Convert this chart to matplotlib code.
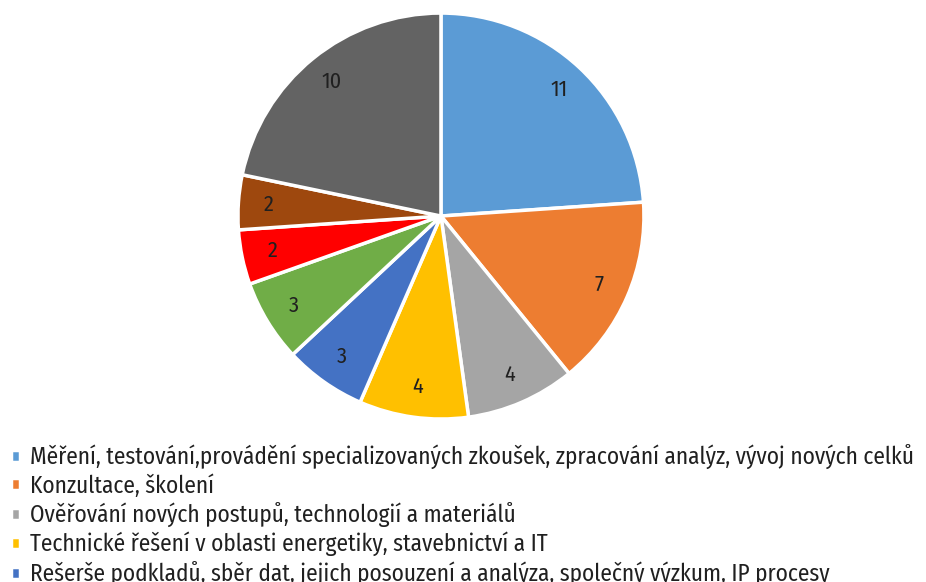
import matplotlib.pyplot as plt

# data
values = [11, 7, 4, 4, 3, 3, 2, 2, 10]
colors = ['#5B9BD5', '#ED7D31', '#A5A5A5', '#FFC000', '#4472C4',
          '#70AD47', '#FF0000', '#9E480E', '#636363']
legend_labels = [
    'Měření, testování,provádění specializovaných zkoušek, zpracování analýz, vývoj nových celků',
    'Konzultace, školení',
    'Ověřování nových postupů, technologií a materiálů',
    'Technické řešení v oblasti energetiky, stavebnictví a IT',
    'Rešerše podkladů, sběr dat, jejich posouzení a analýza, společný výzkum, IP procesy',
]

plt.rcParams['font.family'] = ['Fira Sans Condensed', 'DejaVu Sans']

fig = plt.figure(figsize=(9.26, 5.82), dpi=100)
ax = fig.add_axes([0.257, 0.280, 0.4384, 0.6976])

wedges, texts = ax.pie(values, colors=colors, startangle=90, counterclock=False,
                       labels=[str(v) for v in values], labeldistance=0.85,
                       wedgeprops=dict(edgecolor='white', linewidth=2.5))
for t in texts:
    t.set_ha('center')
    t.set_va('center')
    t.set_fontsize(16)
    t.set_color('#202020')
ax.set_xlim(-1, 1)
ax.set_ylim(-1, 1)
ax.set_aspect('equal')

leg = fig.legend(wedges[:5], legend_labels, loc='upper left',
                 bbox_to_anchor=(0.012, 1 - 444 / 582), frameon=False,
                 fontsize=16.8, handlelength=0.4, handleheight=0.4,
                 handletextpad=0.4, labelspacing=0.2, borderpad=0,
                 borderaxespad=0, labelcolor='#202020')

fig.savefig('out.png', dpi=100)
